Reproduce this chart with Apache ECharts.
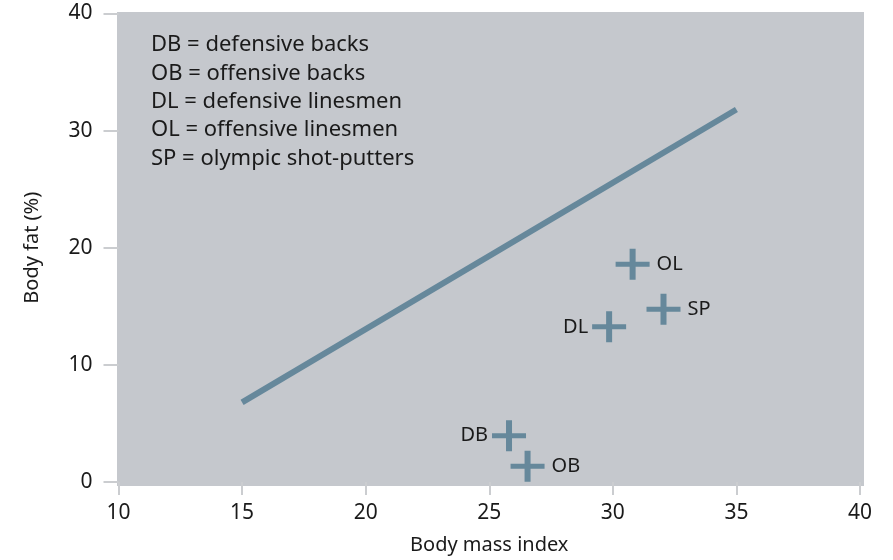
<!DOCTYPE html>
<html>
<head>
<meta charset="utf-8">
<script src="https://cdn.jsdelivr.net/npm/echarts@6/dist/echarts.min.js"></script>
<style>
    html, body { margin: 0; padding: 0; background: #fff; }
    #chart { width: 893px; height: 560px; }
</style>
</head>
<body>
<div id="chart"></div>
<script>
// player groups: [body mass index, body fat %]
const groupNames = ['DB', 'OB', 'DL', 'OL', 'SP']
const groupBmi = [25.8, 26.55, 29.85, 30.8, 32.05]
const groupFat = [3.95, 1.35, 13.25, 18.6, 14.75]
const labelSide = ['left', 'right', 'left', 'right', 'right']

// reference line for the general population
const lineBmi = [15, 35]
const lineFat = [6.8, 31.8]

const legendLines = [
    'DB = defensive backs',
    'OB = offensive backs',
    'DL = defensive linesmen',
    'OL = offensive linesmen',
    'SP = olympic shot-putters'
]

const xTicks = [10, 15, 20, 25, 30, 35, 40]
const yTicks = [0, 10, 20, 30, 40]

const ink = '#1a1a1a'
const markColor = '#66889b'
const panelColor = '#c5c8cd'
const font = 'Noto Sans'

const plus = 'path://M0,13 L14,13 L14,0 L20,0 L20,13 L34,13 L34,18 L20,18 L20,31 L14,31 L14,18 L0,18 Z'

const buildOption = () => {
    let points = groupNames.map((name, i) => ({
        name: name,
        value: [groupBmi[i], groupFat[i]],
        label: {
            position: labelSide[i],
            distance: labelSide[i] === 'left' ? 4 : 7
        }
    }))
    return {
        animation: false,
        textStyle: { fontFamily: font },
        grid: {
            left: 118.5,
            right: 33,
            top: 13.5,
            bottom: 76,
            containLabel: false
        },
        xAxis: {
            type: 'value',
            min: xTicks[0],
            max: xTicks[xTicks.length - 1],
            interval: 5,
            name: 'Body mass index',
            nameLocation: 'middle',
            nameGap: 53,
            nameTextStyle: { color: ink, fontSize: 20, fontFamily: font },
            axisLine: { show: false },
            axisTick: { show: true, length: 13, lineStyle: { color: '#cbcdd0', width: 2 } },
            axisLabel: { color: ink, fontSize: 21, margin: 21, fontFamily: font },
            splitLine: { show: false }
        },
        yAxis: {
            type: 'value',
            min: yTicks[0],
            max: yTicks[yTicks.length - 1],
            interval: 10,
            name: 'Body fat (%)',
            nameLocation: 'middle',
            nameGap: 76,
            nameTextStyle: { color: ink, fontSize: 20, fontFamily: font },
            axisLine: { show: false },
            axisTick: { show: true, length: 15, lineStyle: { color: '#cbcdd0', width: 2 } },
            axisLabel: { color: ink, fontSize: 21, margin: 26, fontFamily: font },
            splitLine: { show: false }
        },
        series: [
            {
                type: 'line',
                data: lineBmi.map((x, i) => [x, lineFat[i]]),
                symbol: 'none',
                lineStyle: { color: markColor, width: 6, cap: 'butt' },
                z: 3
            },
            {
                type: 'scatter',
                data: points,
                symbol: plus,
                symbolSize: [34, 31],
                itemStyle: { color: markColor, opacity: 1 },
                label: {
                    show: true,
                    formatter: '{b}',
                    color: ink,
                    fontSize: 20,
                    fontFamily: font
                },
                z: 4
            }
        ]
    }
}

const chart = echarts.init(document.getElementById('chart'), null, { renderer: 'canvas' })
chart.setOption(buildOption())

// grey panel, a touch wider than the axis range
const topLeft = chart.convertToPixel({ gridIndex: 0 }, [xTicks[0], yTicks[yTicks.length - 1]])
const bottomRight = chart.convertToPixel({ gridIndex: 0 }, [xTicks[xTicks.length - 1], yTicks[0]])
chart.setOption({
    graphic: [
        {
            type: 'rect',
            z: -10,
            silent: true,
            shape: {
                x: topLeft[0] - 1.5,
                y: topLeft[1] - 1.5,
                width: bottomRight[0] - topLeft[0] + 5.5,
                height: bottomRight[1] - topLeft[1] + 5.5
            },
            style: { fill: panelColor }
        },
        {
            type: 'text',
            z: 10,
            left: 151,
            top: 31,
            style: {
                text: legendLines.join('\n'),
                fill: ink,
                fontSize: 22,
                lineHeight: 28.3,
                fontFamily: font
            }
        }
    ]
})
</script>
</body>
</html>
